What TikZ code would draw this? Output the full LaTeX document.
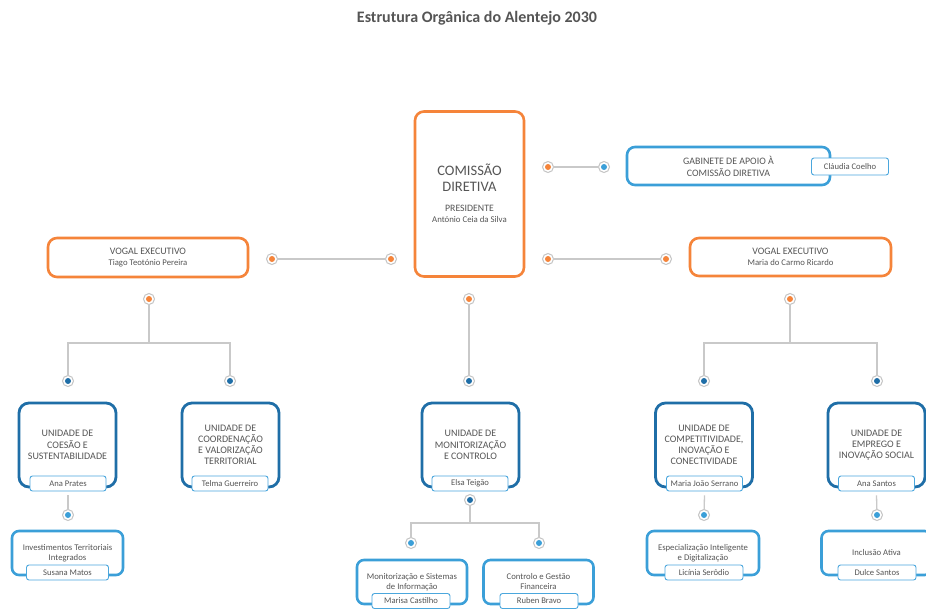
\documentclass[tikz,border=0pt]{standalone}
\usepackage{fontspec}
\setmainfont{Carlito}
\definecolor{orangeC}{HTML}{F5843A}
\definecolor{darkblueC}{HTML}{1F6EA7}
\definecolor{lightblueC}{HTML}{3B9FD8}
\definecolor{tagblueC}{HTML}{4BA7DD}
\definecolor{txtC}{HTML}{555555}
\definecolor{lineC}{HTML}{C9C9C9}
\definecolor{ringC}{HTML}{C4C4C4}
\begin{document}
\begin{tikzpicture}[x=1pt,y=-1pt,
  every node/.style={text=txtC},
  box/.style={draw, fill=white, align=center, inner sep=0pt},
  orbox/.style={box, draw=orangeC, line width=2.6pt, rounded corners=9pt},
  unitbox/.style={box, draw=darkblueC, line width=2.8pt, rounded corners=10pt, minimum width=97pt, minimum height=84pt, font=\fontsize{10}{11.2}\selectfont},
  subbox/.style={box, draw=lightblueC, line width=2.6pt, rounded corners=7pt, minimum width=110pt, minimum height=44pt, font=\fontsize{8.7}{10}\selectfont},
  tagbox/.style={draw=tagblueC, line width=0.9pt, fill=white, rounded corners=2.5pt, minimum width=76pt, minimum height=15pt, inner sep=0pt, font=\fontsize{8.6}{9}\selectfont},
  dotbase/.style={circle, draw=ringC, line width=1pt, fill=white, minimum size=11pt, inner sep=0pt},
  dotor/.style={dotbase, path picture={\fill[orangeC] (path picture bounding box.center) circle (3pt);}},
  dotdb/.style={dotbase, path picture={\fill[darkblueC] (path picture bounding box.center) circle (3pt);}},
  dotlb/.style={dotbase, path picture={\fill[lightblueC] (path picture bounding box.center) circle (3pt);}},
  conn/.style={draw=lineC, line width=1.3pt}
]
\fill[white] (0,0) rectangle (926,608);
\useasboundingbox (0,0) rectangle (926,608);

\node[font=\fontsize{16}{18}\selectfont\bfseries] (title) at (477,18) {Estrutura Orgânica do Alentejo 2030};

% central
\node[orbox, minimum width=109pt, minimum height=165pt] (cd) at (469.5,194) {};
\node[align=center, font=\fontsize{14.5}{15.5}\selectfont] (cdT) at (469.5,177.5) {COMISSÃO\\DIRETIVA};
\node[align=center, font=\fontsize{8.8}{10.5}\selectfont] (cdS) at (469.5,214) {{\fontsize{9.8}{10.5}\selectfont PRESIDENTE}\\António Ceia da Silva};

% gabinete
\node[box, draw=lightblueC, line width=2.6pt, rounded corners=8pt, minimum width=203pt, minimum height=38pt, font=\fontsize{9.9}{12}\selectfont] (gab) at (728.5,166) {GABINETE DE APOIO À\\COMISSÃO DIRETIVA};
\node[tagbox, minimum height=17pt, minimum width=77pt] (gabT) at (850,166.5) {Cláudia Coelho};

% vogais
\node[orbox, minimum width=200pt, minimum height=39pt, font=\fontsize{9.9}{11}\selectfont] (vL) at (148,257.5) {VOGAL EXECUTIVO\\{\fontsize{8.7}{11}\selectfont Tiago Teotónio Pereira}};
\node[orbox, minimum width=201pt, minimum height=38pt, font=\fontsize{9.9}{11}\selectfont] (vR) at (790.5,257) {VOGAL EXECUTIVO\\{\fontsize{8.7}{11}\selectfont Maria do Carmo Ricardo}};

% dots top
\node[dotor] (dG1) at (548,167) {};
\node[dotlb] (dG2) at (604,167) {};
\node[dotor] (dR1) at (548,259) {};
\node[dotor] (dR2) at (666,259) {};
\node[dotor] (dL1) at (391,259) {};
\node[dotor] (dL2) at (272,259) {};
\node[dotor] (dLv) at (149,299) {};
\node[dotor] (dC) at (469,299) {};
\node[dotor] (dRv) at (790,299) {};
\node[dotdb] (dLa) at (68,381) {};
\node[dotdb] (dLb) at (230,381) {};
\node[dotdb] (dCa) at (469,381) {};
\node[dotdb] (dRa) at (704,381) {};
\node[dotdb] (dRb) at (877,381) {};

\draw[conn] (dG1) -- (dG2);
\draw[conn] (dR1) -- (dR2);
\draw[conn] (dL1) -- (dL2);
\coordinate (jL) at (149,343);
\coordinate (jR) at (790,343);
\draw[conn] (dLv) -- (jL);
\draw[conn] (dLa) |- (jL) -| (dLb);
\draw[conn] (dC) -- (dCa);
\draw[conn] (dRv) -- (jR);
\draw[conn] (dRa) |- (jR) -| (dRb);

% units
\node[unitbox] (u1) at (67.5,445) {UNIDADE DE\\COESÃO E\\SUSTENTABILIDADE};
\node[unitbox] (u2) at (230.5,445) {UNIDADE DE\\COORDENAÇÃO\\E VALORIZAÇÃO\\TERRITORIAL};
\node[unitbox] (u3) at (470.5,445) {UNIDADE DE\\MONITORIZAÇÃO\\E CONTROLO};
\node[unitbox] (u4) at (704,445) {UNIDADE DE\\COMPETITIVIDADE,\\INOVAÇÃO E\\CONECTIVIDADE};
\node[unitbox] (u5) at (876.5,445) {UNIDADE DE\\EMPREGO E\\INOVAÇÃO SOCIAL};
\node[tagbox] (t1) at (68,483.5) {Ana Prates};
\node[tagbox] (t2) at (230,483.5) {Telma Guerreiro};
\node[tagbox] (t3) at (470,483.5) {Elsa Teigão};
\node[tagbox] (t4) at (704.5,483.5) {Maria João Serrano};
\node[tagbox] (t5) at (876.5,483.5) {Ana Santos};

% sub dots
\node[dotlb] (dS1) at (68,515) {};
\node[dotdb] (dCs) at (470,500) {};
\node[dotlb] (dMa) at (411,543) {};
\node[dotlb] (dMb) at (539,543) {};
\node[dotlb] (dS4) at (704,515) {};
\node[dotlb] (dS5) at (877,515) {};
\draw[conn] ([yshift=-4pt]t1.south) -- (dS1);
\draw[conn] ([yshift=-4pt]t4.south) -- (dS4);
\draw[conn] ([yshift=-4pt]t5.south) -- (dS5);
\coordinate (jM) at (470,523);
\draw[conn] (dCs) -- (jM);
\draw[conn] (dMa) |- (jM) -| (dMb);

% sub boxes
\node[subbox, minimum width=111pt] (s1) at (67.5,553) {Investimentos Territoriais\\Integrados};
\node[subbox] (s2) at (412,582) {Monitorização e Sistemas\\de Informação};
\node[subbox] (s3) at (538.5,582) {Controlo e Gestão\\Financeira};
\node[subbox, minimum width=112pt] (s4) at (703,553) {Especialização Inteligente\\e Digitalização};
\node[subbox] (s5) at (876.5,553) {Inclusão Ativa};
\node[tagbox, minimum width=82pt] (st1) at (67.5,572.5) {Susana Matos};
\node[tagbox, minimum width=78pt] (st2) at (411,601) {Marisa Castilho};
\node[tagbox, minimum width=78pt] (st3) at (539,601) {Ruben Bravo};
\node[tagbox, minimum width=78pt] (st4) at (704,572.5) {Licínia Serôdio};
\node[tagbox, minimum width=78pt] (st5) at (877,572.5) {Dulce Santos};
\end{tikzpicture}
\end{document}
